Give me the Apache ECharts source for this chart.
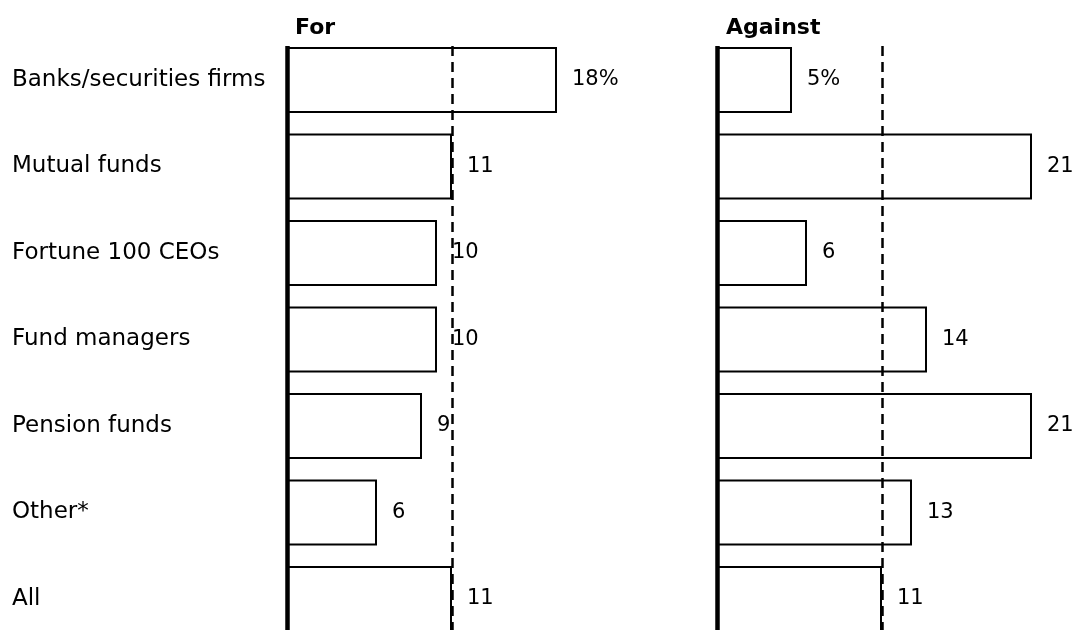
<!DOCTYPE html>
<html><head><meta charset="utf-8">
<script src="https://cdn.jsdelivr.net/npm/echarts@6/dist/echarts.min.js"></script>
<style>html,body{margin:0;padding:0;background:#fff;width:1074px;height:630px;overflow:hidden}#c{width:1074px;height:660px}</style>
</head><body><div id="c"></div>
<script>
const categories = ['Banks/securities firms','Mutual funds','Fortune 100 CEOs','Fund managers','Pension funds','Other*','All'];
const forValues = [18, 11, 10, 10, 9, 6, 11];
const againstValues = [5, 21, 6, 14, 21, 13, 11];
const panelTitles = ['For', 'Against'];

const FONT = '"DejaVu Sans", sans-serif';
const chart = echarts.init(document.getElementById('c'), null, {renderer: 'canvas'});

function panelSeries(values, idx) {
  const allVal = values[values.length - 1];
  const first = categories[0], last = categories[categories.length - 1];
  return {
    type: 'bar', xAxisIndex: idx, yAxisIndex: idx,
    data: values, barWidth: 66,
    itemStyle: {color: '#fff', borderColor: '#000', borderWidth: 2},
    label: {show: true, position: 'right', distance: 15, color: '#000',
      fontFamily: FONT, fontSize: 21,
      formatter: p => p.dataIndex === 0 ? p.value + '%' : String(p.value)},
    markLine: {
      silent: true, symbol: 'none', animation: false, label: {show: false},
      data: [
        [{coord: [0, first], y: 46, lineStyle: {type: 'solid', width: 4.5, color: '#000'}},
         {coord: [0, last], y: 660}],
        [{coord: [allVal, first], y: 46, lineStyle: {type: [10, 6], width: 2.5, color: '#000'}},
         {coord: [allVal, last], y: 660}]
      ]
    }
  };
}

chart.setOption({
  animation: false,
  title: [
    {text: panelTitles[0], left: 290, top: 12, textStyle: {fontFamily: FONT, fontSize: 22, fontWeight: 'bold', color: '#000'}},
    {text: panelTitles[1], left: 721, top: 12, textStyle: {fontFamily: FONT, fontSize: 22, fontWeight: 'bold', color: '#000'}}
  ],
  grid: [
    {left: 287, top: 36.75, width: 300, height: 605.5},
    {left: 717, top: 36.75, width: 330, height: 605.5}
  ],
  xAxis: [
    {type: 'value', gridIndex: 0, min: 0, max: 20, show: false},
    {type: 'value', gridIndex: 1, min: 0, max: 22, show: false}
  ],
  yAxis: [
    {type: 'category', gridIndex: 0, data: categories, inverse: true,
      axisLine: {show: false}, axisTick: {show: false}, splitLine: {show: false},
      axisLabel: {align: 'left', margin: 275, color: '#000', fontFamily: FONT, fontSize: 23}},
    {type: 'category', gridIndex: 1, data: categories, inverse: true,
      axisLine: {show: false}, axisTick: {show: false}, splitLine: {show: false},
      axisLabel: {show: false}}
  ],
  series: [panelSeries(forValues, 0), panelSeries(againstValues, 1)]
});
</script></body></html>
